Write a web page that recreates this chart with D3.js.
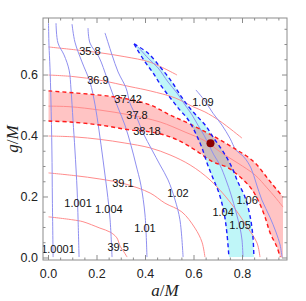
<!DOCTYPE html>
<html>
<head>
<meta charset="utf-8">
<script src="https://cdn.jsdelivr.net/npm/d3@7"></script>
<style>
body { margin: 0; background: #fff; }
</style>
</head>
<body>
<div id="chart"></div>
<script>
// contour lines, points are [a/M, g/M]
var red358 = [[0,0.692],[0.118,0.682],[0.212,0.673],[0.315,0.660],[0.419,0.642],[0.530,0.600]];
var red369 = [[0,0.600],[0.101,0.595],[0.212,0.583],[0.336,0.562],[0.419,0.548],[0.522,0.525],[0.596,0.496],[0.645,0.479],[0.707,0.449],[0.798,0.393]];
var red3742 = [[0,0.548],[0.212,0.534],[0.328,0.521],[0.419,0.502],[0.501,0.469],[0.584,0.439],[0.695,0.393],[0.777,0.354],[0.823,0.331],[0.860,0.305],[0.893,0.272],[0.922,0.243],[0.967,0.200]];
var red378 = [[0,0.498],[0.089,0.496],[0.212,0.485],[0.336,0.469],[0.460,0.446],[0.563,0.413],[0.645,0.384],[0.715,0.344],[0.781,0.311],[0.852,0.272],[0.901,0.230],[0.934,0.200],[0.967,0.167]];
var red3818 = [[0,0.449],[0.089,0.446],[0.212,0.436],[0.336,0.420],[0.398,0.416],[0.480,0.403],[0.550,0.380],[0.616,0.348],[0.678,0.315],[0.736,0.298],[0.781,0.272],[0.831,0.233],[0.864,0.190],[0.893,0.134],[0.914,0.082],[0.942,0.036],[0.955,0.003]];
var red386 = [[0,0.400],[0.109,0.397],[0.212,0.389],[0.315,0.377],[0.419,0.361],[0.501,0.338],[0.584,0.305],[0.666,0.256],[0.748,0.184],[0.819,0.102],[0.860,0.049],[0.872,0.003]];
var red391 = [[0,0.279],[0.109,0.270],[0.212,0.259],[0.315,0.243],[0.419,0.213],[0.480,0.180],[0.550,0.151],[0.604,0.098],[0.633,0.052],[0.645,0.003]];
var red395 = [[0,0.135],[0.101,0.125],[0.142,0.119],[0.212,0.098],[0.254,0.085],[0.282,0.066],[0.295,0.039],[0.311,0.020],[0.324,0.003]];

var blue10001 = [[0,0.770],[0.002,0.698],[0.006,0.626],[0.010,0.518],[0.014,0.354],[0.016,0.190],[0.019,0.003]];
var blue1001 = [[0.031,0.770],[0.039,0.705],[0.064,0.666],[0.085,0.616],[0.093,0.551],[0.101,0.452],[0.109,0.354],[0.118,0.223],[0.122,0.125],[0.126,0.003]];
var blue1004 = [[0.097,0.767],[0.109,0.708],[0.138,0.643],[0.171,0.577],[0.192,0.502],[0.208,0.420],[0.225,0.321],[0.241,0.223],[0.254,0.125],[0.262,0.003]];
var blue101 = [[0.163,0.754],[0.171,0.705],[0.208,0.659],[0.241,0.590],[0.262,0.544],[0.287,0.492],[0.315,0.436],[0.340,0.370],[0.361,0.305],[0.381,0.239],[0.398,0.141],[0.406,0.003]];
var blue102 = [[0.233,0.738],[0.262,0.666],[0.287,0.610],[0.320,0.557],[0.336,0.508],[0.365,0.459],[0.390,0.410],[0.427,0.354],[0.460,0.305],[0.493,0.256],[0.522,0.190],[0.542,0.125],[0.555,0.003]];
var blue104 = [[0.353,0.702],[0.365,0.685],[0.398,0.643],[0.431,0.607],[0.468,0.561],[0.509,0.518],[0.542,0.485],[0.571,0.459],[0.596,0.426],[0.616,0.393],[0.633,0.361],[0.654,0.311],[0.678,0.262],[0.703,0.213],[0.724,0.148],[0.736,0.079],[0.744,0.003]];
var blue105 = [[0.369,0.692],[0.410,0.656],[0.452,0.623],[0.493,0.577],[0.530,0.541],[0.563,0.502],[0.592,0.469],[0.616,0.436],[0.641,0.403],[0.662,0.370],[0.682,0.338],[0.707,0.305],[0.732,0.256],[0.753,0.207],[0.773,0.151],[0.790,0.098],[0.798,0.059],[0.802,0.003]];
var blue106 = [[0.353,0.702],[0.410,0.672],[0.464,0.623],[0.509,0.577],[0.546,0.531],[0.579,0.495],[0.616,0.462],[0.649,0.433],[0.678,0.397],[0.707,0.364],[0.736,0.328],[0.761,0.289],[0.781,0.249],[0.810,0.200],[0.831,0.138],[0.843,0.069],[0.847,0.003]];
var blue109 = [[0.608,0.551],[0.645,0.515],[0.678,0.475],[0.715,0.436],[0.748,0.393],[0.773,0.354],[0.806,0.331],[0.835,0.295],[0.856,0.246],[0.880,0.190],[0.913,0.134],[0.938,0.085],[0.955,0.043],[0.963,0.003]];

var aMax = 0.967;
var bestFit = [0.668, 0.376];

var contourLabels = [
  ["35.8", 0.171, 0.679], ["36.9", 0.204, 0.584], ["37.42", 0.328, 0.521],
  ["37.8", 0.365, 0.469], ["38.18", 0.406, 0.416], ["39.1", 0.307, 0.246],
  ["39.5", 0.287, 0.036], ["1.0001", 0.039, 0.030], ["1.001", 0.122, 0.180],
  ["1.004", 0.249, 0.161], ["1.01", 0.398, 0.098], ["1.02", 0.534, 0.213],
  ["1.04", 0.720, 0.151], ["1.05", 0.790, 0.108], ["1.06", 0.819, 0.190],
  ["1.09", 0.637, 0.511]
];

var xTicks = [0, 0.2, 0.4, 0.6, 0.8];
var yTicks = [0, 0.2, 0.4, 0.6];

var W = 306, H = 301;
var svg = d3.select("#chart").append("svg").attr("width", W).attr("height", H);

var x = d3.scaleLinear().domain([-0.0227, 0.9835]).range([43, 287]);
var y = d3.scaleLinear().domain([-0.0066, 0.787]).range([260, 18]);

var line = d3.line().x(function(d){ return x(d[0]); }).y(function(d){ return y(d[1]); })
  .curve(d3.curveCatmullRom.alpha(0.5));

svg.append("clipPath").attr("id", "frameClip").append("rect")
  .attr("x", 43).attr("y", 18).attr("width", 244).attr("height", 242);

// pink band: between 37.42 and 38.18, closed along right edge
var pinkPoly = red3742.concat([[aMax, 0]]).concat(red3818.slice().reverse());
// cyan band: between 1.04 and 1.06
var cyanPoly = blue104.concat(blue106.slice().reverse());

var area = d3.line().x(function(d){ return x(d[0]); }).y(function(d){ return y(d[1]); })
  .curve(d3.curveLinearClosed);

var plot = svg.append("g").attr("clip-path", "url(#frameClip)");

plot.append("path").attr("d", area(pinkPoly)).attr("fill", "#ffc4c4");
plot.append("path").attr("d", area(cyanPoly)).attr("fill", "#bff6f8");

svg.append("clipPath").attr("id", "pinkClip").append("path").attr("d", area(pinkPoly));
plot.append("path").attr("d", area(cyanPoly)).attr("fill", "#cdbdbd")
  .attr("clip-path", "url(#pinkClip)");

// solid contours
[red358, red369, red378, red386, red391, red395].forEach(function(c){
  plot.append("path").attr("d", line(c)).attr("fill", "none")
    .attr("stroke", "#ff8c8c").attr("stroke-width", 1);
});
[blue10001, blue1001, blue1004, blue101, blue102, blue105, blue109].forEach(function(c){
  plot.append("path").attr("d", line(c)).attr("fill", "none")
    .attr("stroke", "#8f8ff0").attr("stroke-width", 1);
});
// dashed band edges
[red3742, red3818].forEach(function(c){
  plot.append("path").attr("d", line(c)).attr("fill", "none")
    .attr("stroke", "#ff1a1a").attr("stroke-width", 1.4).attr("stroke-dasharray", "4,3");
});
[blue104, blue106].forEach(function(c){
  plot.append("path").attr("d", line(c)).attr("fill", "none")
    .attr("stroke", "#1a1aff").attr("stroke-width", 1.4).attr("stroke-dasharray", "4,3");
});

// contour labels
plot.selectAll("text.cl").data(contourLabels).enter().append("text")
  .attr("class", "cl")
  .attr("x", function(d){ return x(d[1]); })
  .attr("y", function(d){ return y(d[2]); })
  .attr("dy", "0.35em")
  .attr("text-anchor", "middle")
  .style("font-family", "Liberation Sans, Arial, sans-serif")
  .style("font-size", "11px")
  .style("fill", "#111")
  .text(function(d){ return d[0]; });

plot.append("circle").attr("cx", x(bestFit[0])).attr("cy", y(bestFit[1]))
  .attr("r", 4).attr("fill", "#8b0000");

// frame and ticks
svg.append("rect").attr("x", 43).attr("y", 18).attr("width", 244).attr("height", 242)
  .attr("fill", "none").attr("stroke", "#8c8c8c").attr("stroke-width", 1);

var tk = svg.append("g").attr("stroke", "#8c8c8c").attr("stroke-width", 1);
d3.range(0, 0.9751, 0.05).forEach(function(v){
  var major = xTicks.some(function(t){ return Math.abs(t - v) < 1e-6; });
  var L = major ? 5 : 2.5;
  tk.append("line").attr("x1", x(v)).attr("x2", x(v)).attr("y1", 260).attr("y2", 260 - L);
  tk.append("line").attr("x1", x(v)).attr("x2", x(v)).attr("y1", 18).attr("y2", 18 + L);
});
d3.range(0, 0.7751, 0.05).forEach(function(v){
  var major = yTicks.some(function(t){ return Math.abs(t - v) < 1e-6; });
  var L = major ? 5 : 2.5;
  tk.append("line").attr("y1", y(v)).attr("y2", y(v)).attr("x1", 43).attr("x2", 43 + L);
  tk.append("line").attr("y1", y(v)).attr("y2", y(v)).attr("x1", 287).attr("x2", 287 - L);
});

svg.selectAll("text.xt").data(xTicks).enter().append("text")
  .attr("x", function(d){ return x(d); }).attr("y", 278)
  .attr("text-anchor", "middle")
  .style("font-family", "Liberation Sans, Arial, sans-serif").style("font-size", "12.5px").style("fill", "#222")
  .text(function(d){ return d3.format(".1f")(d); });
svg.selectAll("text.yt").data(yTicks).enter().append("text")
  .attr("x", 38).attr("y", function(d){ return y(d); }).attr("dy", "0.35em")
  .attr("text-anchor", "end")
  .style("font-family", "Liberation Sans, Arial, sans-serif").style("font-size", "12.5px").style("fill", "#222")
  .text(function(d){ return d3.format(".1f")(d); });

// axis titles
var xt = svg.append("text").attr("x", 165).attr("y", 296).attr("text-anchor", "middle")
  .style("font-family", "Liberation Serif, Times New Roman, serif").style("font-size", "17px").style("fill", "#222");
xt.append("tspan").style("font-style", "italic").text("a");
xt.append("tspan").text("/");
xt.append("tspan").style("font-style", "italic").text("M");

var yt = svg.append("text").attr("transform", "translate(18,139) rotate(-90)").attr("text-anchor", "middle")
  .style("font-family", "Liberation Serif, Times New Roman, serif").style("font-size", "17px").style("fill", "#222");
yt.append("tspan").style("font-style", "italic").text("g");
yt.append("tspan").text("/");
yt.append("tspan").style("font-style", "italic").text("M");
</script>
</body>
</html>
